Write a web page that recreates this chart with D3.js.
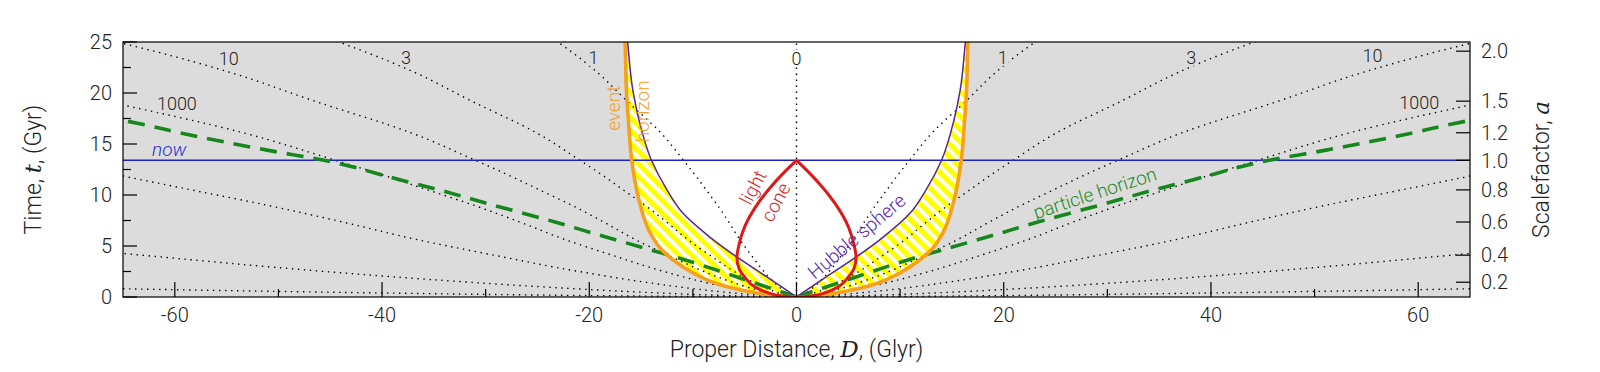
<!DOCTYPE html>
<html>
<head>
<meta charset="utf-8">
<script src="https://cdn.jsdelivr.net/npm/d3@7"></script>
<style>
  body { margin: 0; background: #fff; }
  text { font-family: Roboto, "Liberation Sans", sans-serif; font-weight: 300; }
</style>
</head>
<body>
<div id="chart"></div>
<script>
/* ============================================= */
/* Data (right half, [D Glyr, t Gyr]; left half is the mirror) */
/* ============================================= */

const eventHorizon = [[0,0],[1.2,0.05],[2.6,0.2],[4.5,0.52],[6.3,0.9],[7.8,1.34],[9.9,2.32],[11.9,3.63],[13.0,4.6],[14.1,6.24],[15.2,9.5],[15.9,13.4],[16.2,17],[16.4,20],[16.55,25],[16.6,26]];
const hubbleSphere = [[0,0],[1.0,0.69],[2.9,1.99],[5.8,3.95],[8.4,5.9],[10.95,8.2],[12.5,10.5],[14.0,13.4],[15.2,17.35],[15.8,20.3],[16.3,25],[16.4,26]];
const lightCone = [[0,13.4],[1.4,12.0],[2.3,11.0],[3.7,9.2],[5.0,6.9],[5.6,4.9],[5.75,3.9],[5.55,2.8],[5.0,1.96],[4.0,0.98],[3.0,0.5],[1.9,0.18],[1.0,0.05],[0,0]];
const particleHorizon = [[0,0],[1.0,0.35],[3.8,1.3],[7.6,2.6],[10.1,3.43],[14.0,4.6],[18.8,6.0],[23.3,7.35],[29.6,9.1],[34.5,10.5],[38.3,11.5],[45.6,13.4],[51.1,14.4],[59.5,16.1],[62.5,16.8],[67,17.7]];

// comoving worldlines (dotted)
const worldlineZ0 = [[0,0],[0,26]];
const worldlineZ1 = [[0,0],[0.08,0.01],[0.23,0.05],[0.37,0.1],[0.58,0.2],[1.07,0.5],[1.70,1.0],[2.18,1.45],[3.14,2.5],[4.36,4.1],[5.45,5.6],[6.54,7.35],[7.63,9],[8.72,10.5],[9.81,12],[10.9,13.4],[13.1,16.1],[16.35,19.2],[19.2,22],[21.8,24.1],[24.5,26]];
const worldlineZ3 = [[0,0],[0.15,0.01],[0.44,0.05],[0.70,0.1],[1.11,0.2],[2.05,0.5],[3.26,1.0],[4.18,1.45],[6.02,2.5],[8.36,4.1],[10.45,5.6],[12.54,7.35],[14.63,9],[16.72,10.5],[18.81,12],[20.9,13.4],[25.1,16.1],[31.35,19.2],[36.8,22],[41.8,24.1],[47.0,26]];
const worldlineZ10 = [[0,0],[0.22,0.01],[0.66,0.05],[1.04,0.1],[1.64,0.2],[3.04,0.5],[4.84,1.0],[6.2,1.45],[8.93,2.5],[12.4,4.1],[15.5,5.6],[18.6,7.35],[21.7,9],[24.8,10.5],[27.9,12],[31,13.4],[37.2,16.1],[46.5,19.2],[54.6,22],[62,24.1],[69.8,26]];
const worldlineZ1000 = [[0,0],[0.32,0.01],[0.94,0.05],[1.50,0.1],[2.36,0.2],[4.36,0.5],[6.94,1.0],[8.9,1.45],[12.8,2.5],[17.8,4.1],[22.25,5.6],[26.7,7.35],[31.15,9],[35.6,10.5],[40.05,12],[44.5,13.4],[53.4,16.1],[66.75,19.2]];
const worldlineFar1 = [[0,0],[0.53,0.01],[1.55,0.05],[2.45,0.1],[3.87,0.2],[7.15,0.5],[11.4,1.0],[14.6,1.45],[21.0,2.5],[29.2,4.1],[36.5,5.6],[43.8,7.35],[51.1,9],[58.4,10.5],[65.7,12]];
const worldlineFar2 = [[0,0],[1.14,0.01],[3.35,0.05],[5.3,0.1],[8.4,0.2],[15.5,0.5],[24.6,1.0],[31.6,1.45],[45.5,2.5],[63.2,4.1],[79,5.6]];
const worldlineFar3 = [[0,0],[3.5,0.01],[10.2,0.05],[16.1,0.1],[25.4,0.2],[47.0,0.5],[74.9,1.0]];

const nowTime = 13.4;

// redshift labels along the top
const redshiftLabels = ["1000", "10", "3", "1", "0", "1", "3", "10", "1000"];

// axes
const xTicks = [-60, -40, -20, 0, 20, 40, 60];
const xMinorTicks = [-50, -30, -10, 10, 30, 50];
const yTicks = [0, 5, 10, 15, 20, 25];
const yMinorTicks = [2.5, 7.5, 12.5, 17.5, 22.5];
const scaleFactorLabels = ["0.2", "0.4", "0.6", "0.8", "1.0", "1.2", "1.5", "2.0"];
const scaleFactorTimes = [1.45, 4.1, 7.35, 10.5, 13.4, 16.1, 19.2, 24.1];

/* ============================================= */
/* Layout */
/* ============================================= */

const W = 1600, H = 372;
const margin = { left: 123, right: 130, top: 42, bottom: 75 };
const x = d3.scaleLinear().domain([-65, 65]).range([margin.left, W - margin.right]);
const y = d3.scaleLinear().domain([0, 25]).range([H - margin.bottom, margin.top]);

const svg = d3.select('#chart').append('svg')
    .attr('width', W).attr('height', H);

const defs = svg.append('defs');
defs.append('clipPath').attr('id', 'plotClip')
  .append('rect')
    .attr('x', x(-65)).attr('y', y(25))
    .attr('width', x(65) - x(-65)).attr('height', y(0) - y(25));

const hatch = defs.append('pattern')
    .attr('id', 'hatch')
    .attr('patternUnits', 'userSpaceOnUse')
    .attr('width', 9).attr('height', 9)
    .attr('patternTransform', 'rotate(-45)');
hatch.append('rect').attr('width', 9).attr('height', 9).attr('fill', '#ffffff');
hatch.append('rect').attr('width', 5.2).attr('height', 9).attr('fill', '#ffff00');

const mirror = pts => pts.map(d => [-d[0], d[1]]);

const line = d3.line()
    .x(d => x(d[0]))
    .y(d => y(d[1]))
    .curve(d3.curveMonotoneY);

const plot = svg.append('g').attr('clip-path', 'url(#plotClip)');

/* ============================================= */
/* Regions */
/* ============================================= */

plot.append('rect')
    .attr('x', x(-65)).attr('y', y(25))
    .attr('width', x(65) - x(-65)).attr('height', y(0) - y(25))
    .attr('fill', '#dcdcdc');

const insideArea = d3.area()
    .y(d => y(d[1]))
    .x0(d => x(-d[0]))
    .x1(d => x(d[0]))
    .curve(d3.curveMonotoneY);

plot.append('path')
    .attr('d', insideArea(eventHorizon))
    .attr('fill', '#ffffff');

function bandPath(outer, inner) {
    const p1 = line(outer);
    const p2 = line(inner.slice().reverse());
    return p1 + 'L' + p2.substring(1) + 'Z';
}

[[eventHorizon, hubbleSphere], [mirror(eventHorizon), mirror(hubbleSphere)]].forEach(([o, i]) => {
    plot.append('path')
        .attr('d', bandPath(o, i))
        .attr('fill', 'url(#hatch)');
});

/* ============================================= */
/* Worldlines */
/* ============================================= */

const worldlines = [worldlineZ1, worldlineZ3, worldlineZ10, worldlineZ1000, worldlineFar1, worldlineFar2, worldlineFar3];

plot.append('path')
    .attr('d', line(worldlineZ0))
    .attr('fill', 'none')
    .attr('stroke', '#000')
    .attr('stroke-width', 1.4)
    .attr('stroke-dasharray', '1.4,4.6');

worldlines.forEach(w => {
    [w, mirror(w)].forEach(pts => {
        plot.append('path')
            .attr('d', line(pts))
            .attr('fill', 'none')
            .attr('stroke', '#000')
            .attr('stroke-width', 1.4)
            .attr('stroke-dasharray', '1.4,4.6');
    });
});

/* ============================================= */
/* Curves */
/* ============================================= */

plot.append('line')
    .attr('x1', x(-65)).attr('x2', x(65))
    .attr('y1', y(nowTime)).attr('y2', y(nowTime))
    .attr('stroke', '#1c22c8')
    .attr('stroke-width', 1.5);

[particleHorizon, mirror(particleHorizon)].forEach(pts => {
    plot.append('path')
        .attr('d', line(pts))
        .attr('fill', 'none')
        .attr('stroke', '#16871c')
        .attr('stroke-width', 3.6)
        .attr('stroke-dasharray', '17,10');
});

[hubbleSphere, mirror(hubbleSphere)].forEach(pts => {
    plot.append('path')
        .attr('d', line(pts))
        .attr('fill', 'none')
        .attr('stroke', '#56249c')
        .attr('stroke-width', 1.5);
});

[eventHorizon, mirror(eventHorizon)].forEach(pts => {
    plot.append('path')
        .attr('d', line(pts))
        .attr('fill', 'none')
        .attr('stroke', '#f5a11c')
        .attr('stroke-width', 3.6);
});

[lightCone, mirror(lightCone)].forEach(pts => {
    plot.append('path')
        .attr('d', line(pts))
        .attr('fill', 'none')
        .attr('stroke', '#de1717')
        .attr('stroke-width', 3);
});

/* ============================================= */
/* Labels */
/* ============================================= */

const labelPos = [[-59.8, 18.95], [-54.8, 23.4], [-37.7, 23.5], [-19.6, 23.5], [0, 23.4], [19.9, 23.5], [38.1, 23.5], [55.6, 23.7], [60.1, 19.1]];
redshiftLabels.forEach((txt, i) => {
    const [D, t] = labelPos[i];
    const g = svg.append('g').attr('transform', `translate(${x(D)},${y(t)})`);
    const tx = g.append('text')
        .attr('text-anchor', 'middle')
        .attr('dy', '0.36em')
        .attr('font-size', 18)
        .attr('fill', '#222')
        .text(txt);
    const bb = tx.node().getBBox();
    g.insert('rect', 'text')
        .attr('x', bb.x - 1).attr('y', bb.y + 2)
        .attr('width', bb.width + 2).attr('height', bb.height - 4)
        .attr('fill', D === 0 ? '#ffffff' : '#dcdcdc');
});

function rotLabel(txt, D, t, angle, color, size, italic) {
    svg.append('text')
        .attr('transform', `translate(${x(D)},${y(t)}) rotate(${angle})`)
        .attr('text-anchor', 'middle')
        .attr('dy', '0.35em')
        .attr('font-size', size)
        .attr('font-style', italic ? 'italic' : null)
        .attr('fill', color)
        .text(txt);
}

svg.append('text')
    .attr('x', x(-62.2)).attr('y', y(nowTime) - 4)
    .attr('font-size', 19)
    .attr('font-style', 'italic')
    .attr('fill', '#2330cc')
    .text('now');

rotLabel('event', -17.7, 18.5, -90, '#f2a12a', 19);
rotLabel('horizon', -14.9, 18.2, -90, '#f2a12a', 19);
rotLabel('light', -4.2, 10.75, -62, '#d81e1e', 19);
rotLabel('cone', -2.0, 9.3, -62, '#d81e1e', 19);
rotLabel('Hubble sphere', 5.8, 5.95, -40, '#5b27b0', 19);
rotLabel('particle horizon', 28.8, 10.2, -18, '#1f8a25', 19);

/* ============================================= */
/* Axes */
/* ============================================= */

const axes = svg.append('g').attr('stroke', '#000').attr('stroke-width', 1.2);

axes.append('rect')
    .attr('x', x(-65)).attr('y', y(25))
    .attr('width', x(65) - x(-65)).attr('height', y(0) - y(25))
    .attr('fill', 'none');

xTicks.forEach(v => axes.append('line').attr('x1', x(v)).attr('x2', x(v)).attr('y1', y(0)).attr('y2', y(0) - 15));
xMinorTicks.forEach(v => axes.append('line').attr('x1', x(v)).attr('x2', x(v)).attr('y1', y(0)).attr('y2', y(0) - 8));
yTicks.forEach(v => axes.append('line').attr('x1', x(-65)).attr('x2', x(-65) + 14).attr('y1', y(v)).attr('y2', y(v)));
yMinorTicks.forEach(v => axes.append('line').attr('x1', x(-65)).attr('x2', x(-65) + 8).attr('y1', y(v)).attr('y2', y(v)));
scaleFactorTimes.forEach(v => axes.append('line').attr('x1', x(65)).attr('x2', x(65) - 14).attr('y1', y(v)).attr('y2', y(v)));

const tickText = svg.append('g').attr('font-size', 20).attr('fill', '#222');

xTicks.forEach(v => tickText.append('text')
    .attr('x', x(v)).attr('y', y(0) + 25)
    .attr('text-anchor', 'middle')
    .text(v));

yTicks.forEach(v => tickText.append('text')
    .attr('x', x(-65) - 11).attr('y', y(v))
    .attr('dy', '0.36em')
    .attr('text-anchor', 'end')
    .text(v));

scaleFactorLabels.forEach((s, i) => tickText.append('text')
    .attr('x', x(65) + 11).attr('y', y(scaleFactorTimes[i]))
    .attr('dy', '0.36em')
    .text(s));

const xTitle = svg.append('text')
    .attr('x', x(0)).attr('y', 357)
    .attr('text-anchor', 'middle')
    .attr('font-size', 23)
    .attr('fill', '#222');
xTitle.append('tspan').text('Proper Distance, ');
xTitle.append('tspan').attr('font-family', '"DejaVu Serif", serif').attr('font-style', 'italic').text('D');
xTitle.append('tspan').text(', (Glyr)');

const yTitle = svg.append('text')
    .attr('transform', `translate(33,${(y(0) + y(25)) / 2}) rotate(-90)`)
    .attr('text-anchor', 'middle')
    .attr('dy', '0.35em')
    .attr('font-size', 23)
    .attr('fill', '#222');
yTitle.append('tspan').text('Time, ');
yTitle.append('tspan').attr('font-family', '"DejaVu Serif", serif').attr('font-style', 'italic').text('t');
yTitle.append('tspan').text(', (Gyr)');

const aTitle = svg.append('text')
    .attr('transform', `translate(1541,${(y(0) + y(25)) / 2}) rotate(-90)`)
    .attr('text-anchor', 'middle')
    .attr('dy', '0.35em')
    .attr('font-size', 23)
    .attr('fill', '#222');
aTitle.append('tspan').text('Scalefactor, ');
aTitle.append('tspan').attr('font-family', '"DejaVu Serif", serif').attr('font-style', 'italic').text('a');
</script>
</body>
</html>
